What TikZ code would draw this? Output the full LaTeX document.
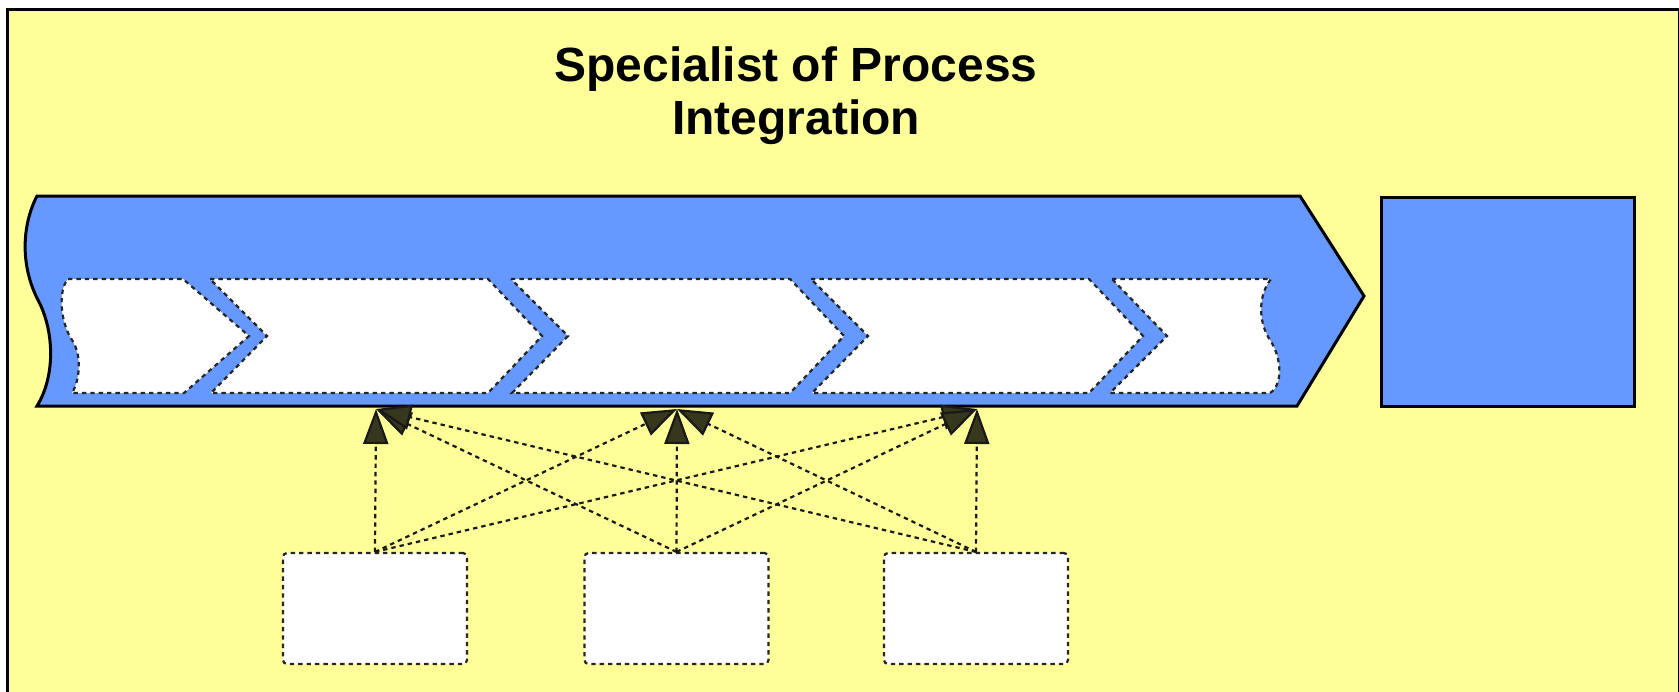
\documentclass[tikz,border=0pt]{standalone}
\usepackage{fontspec}
\setmainfont{Liberation Sans}
\usetikzlibrary{arrows.meta, positioning}
\definecolor{paleyellow}{RGB}{255,255,153}
\definecolor{flowblue}{RGB}{102,153,255}
\definecolor{headolive}{RGB}{55,55,30}

\begin{document}
\begin{tikzpicture}[
    x=0.5pt, y=-0.5pt,
    flowline/.style={draw=black, line width=1.5pt, line join=miter},
    chevron/.style={draw=black!85, fill=white, line width=1.1pt, dash pattern=on 2.2pt off 2pt},
    rolebox/.style={rectangle, draw=black!85, fill=white, line width=1.1pt, dash pattern=on 2.2pt off 2pt, rounded corners=2pt, minimum width=92pt, minimum height=55.5pt},
    outbox/.style={rectangle, draw=black, fill=flowblue, line width=1.5pt, minimum width=126.5pt, minimum height=104.5pt},
    title/.style={font=\bfseries\fontsize{24pt}{26.5pt}\selectfont, align=center, inner sep=0pt},
    arrow/.style={-{Triangle[length=17.5pt, width=12.5pt, fill=headolive]}, line width=1.1pt, black!90, dash pattern=on 2.2pt off 2pt}
]
\clip (0,0) rectangle (1679,691);
\draw[fill=paleyellow, line width=1.5pt] (7,9) rectangle (1679.5,720);

\node[title] (title) at (796,96) {Specialist of Process\\Integration};

% main process arrow
\draw[flowline, fill=flowblue] (37,196) -- (1300,196) -- (1364,296) -- (1297,406) -- (37,406)
    .. controls (56,375) and (54,330) .. (38,300) .. controls (20,265) and (22,225) .. (37,196) -- cycle;

% chevrons
\draw[chevron] (68,279) -- (183,279) -- (249,336) -- (184,393) -- (72,393)
    .. controls (80,380) and (82,355) .. (72,340) .. controls (60,322) and (58,290) .. (68,279) -- cycle;
\foreach \l/\r in {210/488, 511/790, 811/1089} {
    \draw[chevron] (\l,279) -- (\r,279) -- ({\r+54},336) -- (\r,393) -- ({\l+1},393) -- ({\l+57},336) -- cycle;
}
\draw[chevron] (1112,279) -- (1271,279) .. controls (1258,295) and (1258,322) .. (1270,340)
    .. controls (1282,358) and (1283,385) .. (1270,393) -- (1110,393) -- (1167,336) -- cycle;

\node[outbox] (out) at (1507.5,301.5) {};

\coordinate (t1) at (376,409);
\coordinate (t2) at (677,409);
\coordinate (t3) at (977,409);

\node[rolebox] (b1) at (375,608.5) {};
\node[rolebox] (b2) at (676.5,608.5) {};
\node[rolebox] (b3) at (976,608.5) {};

\foreach \s in {1,2,3} {
    \foreach \t in {1,2,3} {
        \draw[arrow] (b\s.north) -- (t\t);
    }
}

\end{tikzpicture}
\end{document}
